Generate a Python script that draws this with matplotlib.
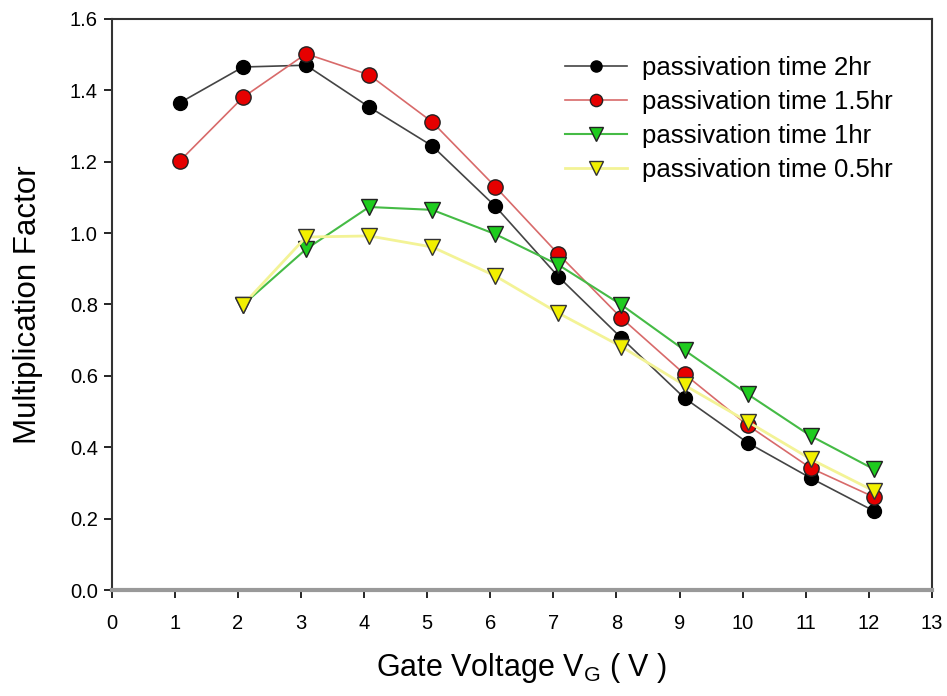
import matplotlib.pyplot as plt

plt.rcParams["font.family"] = ["Liberation Sans", "DejaVu Sans"]

# Gate voltage sample points (V)
gate_voltage = [1.08, 2.08, 3.08, 4.08, 5.08, 6.08, 7.08, 8.08, 9.08, 10.08, 11.08, 12.08]

# Multiplication factor for each passivation time
mf_2hr = [1.365, 1.465, 1.470, 1.353, 1.244, 1.075, 0.878, 0.706, 0.538, 0.413, 0.314, 0.222]
mf_1p5hr = [1.202, 1.380, 1.502, 1.443, 1.311, 1.130, 0.941, 0.762, 0.605, 0.462, 0.342, 0.261]
mf_1hr = [0.799, 0.955, 1.073, 1.065, 0.997, 0.911, 0.799, 0.672, 0.549, 0.432, 0.339]
mf_0p5hr = [0.799, 0.989, 0.992, 0.961, 0.880, 0.776, 0.682, 0.574, 0.472, 0.367, 0.278]

labels = [
    "passivation time 2hr",
    "passivation time 1.5hr",
    "passivation time 1hr",
    "passivation time 0.5hr",
]

fig = plt.figure(figsize=(9.47, 6.96), dpi=100)
ax = fig.add_axes([0.118, 0.152, 0.866, 0.821])

ax.plot(gate_voltage, mf_2hr, color="#444444", lw=1.2, marker="o", ms=10,
        mfc="black", mec="black", label=labels[0], zorder=3)
ax.plot(gate_voltage, mf_1p5hr, color="#d86a6a", lw=1.2, marker="o", ms=11,
        mfc="#e60000", mec="#222222", label=labels[1], zorder=3)
ax.plot(gate_voltage[1:], mf_1hr, color="#45bb45", lw=1.5, marker="v", ms=12,
        mfc="#1ecc1e", mec="#222222", label=labels[2], zorder=3)
ax.plot(gate_voltage[1:], mf_0p5hr, color="#f3f396", lw=2.0, marker="v", ms=12,
        mfc="#f2f000", mec="#333333", label=labels[3], zorder=4)

ax.set_xlim(0, 13)
ax.set_ylim(0, 1.6)
ax.set_xticks(range(0, 14))
ax.set_yticks([0.0, 0.2, 0.4, 0.6, 0.8, 1.0, 1.2, 1.4, 1.6])
ax.set_yticklabels([f"{v:.1f}" for v in ax.get_yticks()])
ax.tick_params(direction="out", length=6, width=1.2, labelsize=14.5)
ax.tick_params(axis="x", pad=11)
ax.tick_params(axis="y", pad=4)

for side in ["left", "top", "right"]:
    ax.spines[side].set_color("#333333")
    ax.spines[side].set_linewidth(1.5)
ax.spines["bottom"].set_color("#999999")
ax.spines["bottom"].set_linewidth(3)

ax.set_xlabel("Gate Voltage V$_\\mathregular{G}$ ( V )", fontsize=22, labelpad=13)
ax.set_ylabel("Multiplication Factor", fontsize=22.5, labelpad=19)

ax.legend(loc="upper left", bbox_to_anchor=(0.537, 0.958), frameon=False,
          fontsize=18.5, handlelength=2.4, handletextpad=0.6, labelspacing=0.4,
          borderpad=0, markerscale=0.8)

fig.savefig("out.png", dpi=100)
